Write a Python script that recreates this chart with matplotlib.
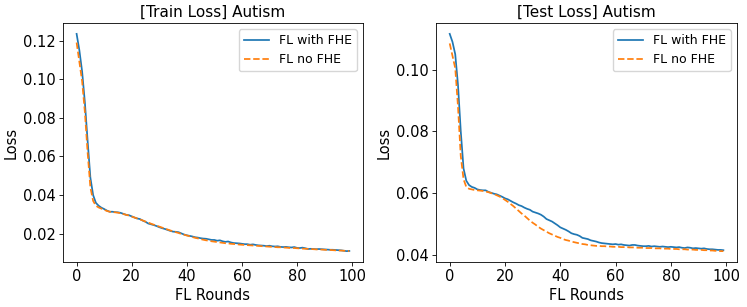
import matplotlib
matplotlib.use("Agg")
import matplotlib.pyplot as plt
import numpy as np

rounds = list(range(100))

train_fhe = [
    0.1235, 0.1150, 0.1040, 0.0880, 0.0680, 0.0490, 0.0400, 0.0360, 0.0345, 0.0335,
    0.0328, 0.0320, 0.0314, 0.0314, 0.0312, 0.0311, 0.0308, 0.0303, 0.0298, 0.0296,
    0.0290, 0.0284, 0.0279, 0.0276, 0.0268, 0.0262, 0.0253, 0.0249, 0.0245, 0.0240,
    0.0234, 0.0229, 0.0225, 0.0220, 0.0215, 0.0211, 0.0210, 0.0208, 0.0202, 0.0196,
    0.0192, 0.0189, 0.0186, 0.0182, 0.0180, 0.0177, 0.0175, 0.0174, 0.0171, 0.0168,
    0.0168, 0.0164, 0.0166, 0.0161, 0.0158, 0.0160, 0.0155, 0.0152, 0.0151, 0.0150,
    0.0148, 0.0146, 0.0146, 0.0143, 0.0145, 0.0142, 0.0140, 0.0139, 0.0138, 0.0136,
    0.0138, 0.0135, 0.0134, 0.0135, 0.0132, 0.0131, 0.0132, 0.0130, 0.0129, 0.0131,
    0.0127, 0.0126, 0.0128, 0.0125, 0.0121, 0.0122, 0.0121, 0.0120, 0.0121, 0.0120,
    0.0119, 0.0118, 0.0117, 0.0117, 0.0116, 0.0115, 0.0114, 0.0112, 0.0110, 0.0111,
]

train_nofhe = [
    0.1190, 0.1090, 0.0990, 0.0830, 0.0620, 0.0440, 0.0370, 0.0345, 0.0336, 0.0330,
    0.0324, 0.0318, 0.0314, 0.0312, 0.0311, 0.0309, 0.0306, 0.0302, 0.0298, 0.0294,
    0.0289, 0.0284, 0.0279, 0.0274, 0.0269, 0.0263, 0.0258, 0.0252, 0.0247, 0.0242,
    0.0237, 0.0232, 0.0227, 0.0222, 0.0217, 0.0213, 0.0208, 0.0204, 0.0199, 0.0195,
    0.0191, 0.0187, 0.0183, 0.0179, 0.0176, 0.0172, 0.0169, 0.0166, 0.0164, 0.0161,
    0.0159, 0.0157, 0.0155, 0.0153, 0.0151, 0.0150, 0.0148, 0.0147, 0.0146, 0.0144,
    0.0143, 0.0142, 0.0141, 0.0140, 0.0139, 0.0138, 0.0137, 0.0136, 0.0135, 0.0134,
    0.0133, 0.0132, 0.0131, 0.0130, 0.0130, 0.0129, 0.0128, 0.0127, 0.0126, 0.0126,
    0.0125, 0.0124, 0.0123, 0.0122, 0.0122, 0.0121, 0.0120, 0.0119, 0.0119, 0.0118,
    0.0117, 0.0116, 0.0116, 0.0115, 0.0114, 0.0113, 0.0113, 0.0112, 0.0111, 0.0110,
]

test_fhe = [
    0.1116, 0.1090, 0.1050, 0.0950, 0.0800, 0.0680, 0.0640, 0.0626, 0.0620, 0.0617,
    0.0612, 0.0610, 0.0609, 0.0609, 0.0604, 0.0601, 0.0598, 0.0596, 0.0592, 0.0588,
    0.0583, 0.0580, 0.0575, 0.0570, 0.0566, 0.0561, 0.0558, 0.0553, 0.0549, 0.0546,
    0.0540, 0.0537, 0.0534, 0.0530, 0.0524, 0.0516, 0.0512, 0.0508, 0.0502, 0.0496,
    0.0489, 0.0485, 0.0481, 0.0476, 0.0470, 0.0467, 0.0465, 0.0461, 0.0455, 0.0453,
    0.0451, 0.0447, 0.0445, 0.0443, 0.0440, 0.0438, 0.0437, 0.0436, 0.0435, 0.0434,
    0.0435, 0.0433, 0.0434, 0.0432, 0.0431, 0.0430, 0.0432, 0.0432, 0.0430, 0.0429,
    0.0428, 0.0428, 0.0429, 0.0427, 0.0428, 0.0427, 0.0426, 0.0427, 0.0426, 0.0425,
    0.0426, 0.0425, 0.0424, 0.0425, 0.0423, 0.0422, 0.0424, 0.0423, 0.0421, 0.0422,
    0.0421, 0.0420, 0.0421, 0.0419, 0.0418, 0.0418, 0.0417, 0.0416, 0.0416, 0.0415,
]

test_nofhe = [
    0.1085, 0.1045, 0.1005, 0.0880, 0.0720, 0.0645, 0.0620, 0.0614, 0.0612, 0.0610,
    0.0609, 0.0608, 0.0607, 0.0605, 0.0603, 0.0600, 0.0597, 0.0593, 0.0589, 0.0584,
    0.0578, 0.0572, 0.0565, 0.0558, 0.0550, 0.0542, 0.0534, 0.0527, 0.0519, 0.0511,
    0.0504, 0.0498, 0.0491, 0.0485, 0.0480, 0.0475, 0.0470, 0.0466, 0.0462, 0.0458,
    0.0455, 0.0451, 0.0448, 0.0446, 0.0443, 0.0441, 0.0439, 0.0437, 0.0435, 0.0434,
    0.0432, 0.0431, 0.0430, 0.0429, 0.0429, 0.0428, 0.0428, 0.0427, 0.0427, 0.0426,
    0.0426, 0.0426, 0.0425, 0.0425, 0.0425, 0.0424, 0.0424, 0.0424, 0.0423, 0.0423,
    0.0423, 0.0422, 0.0422, 0.0422, 0.0421, 0.0421, 0.0421, 0.0420, 0.0420, 0.0420,
    0.0419, 0.0419, 0.0419, 0.0418, 0.0418, 0.0418, 0.0417, 0.0417, 0.0417, 0.0416,
    0.0416, 0.0416, 0.0415, 0.0415, 0.0414, 0.0414, 0.0413, 0.0413, 0.0412, 0.0412,
]

titles = ["[Train Loss] Autism", "[Test Loss] Autism"]
series = [(train_fhe, train_nofhe), (test_fhe, test_nofhe)]
labels = ["FL with FHE", "FL no FHE"]

s = 0.75
fig = plt.figure(figsize=(7.47, 3.07), dpi=100)
axes = [fig.add_axes([0.0843, 0.1466, 0.4016, 0.7785]),
        fig.add_axes([0.5837, 0.1466, 0.4030, 0.7785])]

for ax, title, (fhe, nofhe) in zip(axes, titles, series):
    ax.plot(rounds, fhe, color="#1f77b4", lw=1.25, label=labels[0])
    ax.plot(rounds, nofhe, color="#ff7f0e", lw=1.25, ls="--", label=labels[1])
    ax.set_title(title, fontsize=11, pad=6 * s)
    ax.set_xlabel("FL Rounds", fontsize=14 * s, labelpad=4 * s)
    ax.set_ylabel("Loss", fontsize=14 * s, labelpad=4 * s)
    ax.tick_params(labelsize=14 * s, length=3.5 * s, width=0.8 * s, pad=3.5 * s)
    for sp in ax.spines.values():
        sp.set_linewidth(0.8 * s)
    ax.set_xticks([0, 20, 40, 60, 80, 100])
    ax.legend(loc="upper right", fontsize=12 * s)

axes[0].set_yticks([0.02, 0.04, 0.06, 0.08, 0.10, 0.12])
axes[1].set_yticks([0.04, 0.06, 0.08, 0.10])

fig.savefig("out.png", dpi=100)
